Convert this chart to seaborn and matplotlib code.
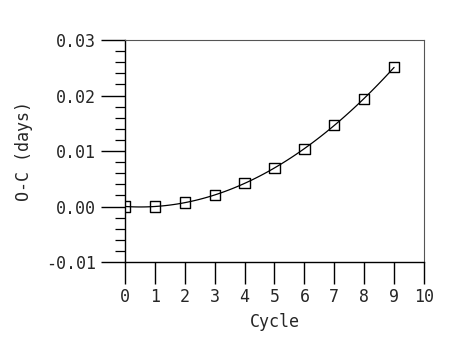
import matplotlib
matplotlib.use("Agg")
import matplotlib.pyplot as plt
import seaborn as sns
import pandas as pd
from matplotlib.ticker import MultipleLocator, FormatStrFormatter

cycle = [0, 1, 2, 3, 4, 5, 6, 7, 8, 9]
o_minus_c = [0.0000, 0.0000, 0.0007, 0.0021, 0.0042, 0.0069, 0.0104, 0.0147, 0.0194, 0.0251]
x_ticks = [0, 1, 2, 3, 4, 5, 6, 7, 8, 9, 10]
y_ticks = [-0.01, 0.00, 0.01, 0.02, 0.03]

df = pd.DataFrame({"Cycle": cycle, "OC": o_minus_c})

sns.set_style("white")
plt.rcParams['font.family'] = ['DejaVu Sans Mono', 'DejaVu Sans']

fig = plt.figure(figsize=(4.59, 3.39), dpi=100)
ax = fig.add_axes([0.2723, 0.2271, 0.6514, 0.6549])

sns.regplot(data=df, x="Cycle", y="OC", order=2, ci=None, scatter=False,
            truncate=True, line_kws=dict(color="black", lw=0.9), ax=ax)
sns.scatterplot(data=df, x="Cycle", y="OC", marker="s", s=55,
                facecolor="none", edgecolor="black", linewidth=1.0, ax=ax, zorder=5)

ax.set_xlim(0, 10)
ax.set_ylim(-0.01, 0.03)
ax.set_xticks(x_ticks)
ax.set_yticks(y_ticks)
ax.yaxis.set_minor_locator(MultipleLocator(0.002))
ax.yaxis.set_major_formatter(FormatStrFormatter('%.2f'))

ax.tick_params(axis='both', which='major', direction='out', length=12, width=1.0,
               color='black', labelsize=12, bottom=True, left=True)
ax.tick_params(axis='y', which='minor', direction='out', length=7, width=0.9,
               color='black', left=True)
ax.tick_params(axis='y', which='major', length=17, pad=4)
ax.tick_params(axis='x', which='major', length=16, pad=3)

for side in ['left', 'bottom']:
    ax.spines[side].set_color('black')
    ax.spines[side].set_linewidth(1.0)
for side in ['top', 'right']:
    ax.spines[side].set_color('#555555')
    ax.spines[side].set_linewidth(0.8)

ax.set_xlabel("Cycle", fontsize=12, labelpad=5)
ax.set_ylabel("O-C (days)", fontsize=12, labelpad=9)

fig.savefig("out.png", dpi=100)
